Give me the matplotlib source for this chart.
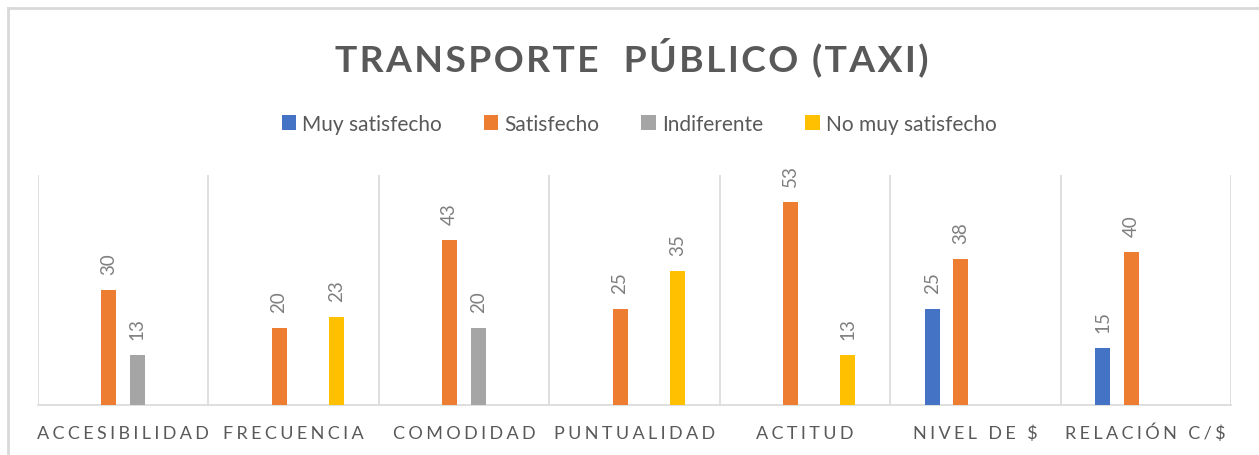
import matplotlib
matplotlib.use("Agg")
import matplotlib.pyplot as plt
from matplotlib.lines import Line2D
from matplotlib.patches import Patch
import numpy as np

# ---------------------------------------------------------------------------
# Data
# ---------------------------------------------------------------------------

CATEGORIES = ["ACCESIBILIDAD", "FRECUENCIA", "COMODIDAD", "PUNTUALIDAD",
              "ACTITUD", "NIVEL DE $", "RELACIÓN C/$"]
SERIES = ["Muy satisfecho", "Satisfecho", "Indiferente", "No muy satisfecho"]
MUY_SATISFECHO = [0, 0, 0, 0, 0, 25, 15]
SATISFECHO = [30, 20, 43, 25, 53, 38, 40]
INDIFERENTE = [13, 0, 20, 0, 0, 0, 0]
NO_MUY_SATISFECHO = [0, 23, 0, 35, 13, 0, 0]
COLORS = ["#4472C4", "#ED7D31", "#A5A5A5", "#FFC000"]

TITLE = "TRANSPORTE  PÚBLICO (TAXI)"

plt.rcParams["font.family"] = ["Lato", "DejaVu Sans"]


def spaced(text, sep="\u2009"):
    """Mimic Excel's character spacing with thin spaces."""
    return sep.join(text)


fig = plt.figure(figsize=(12.59, 4.56), dpi=100)
ax = fig.add_axes([37.7 / 1259, 50 / 456, (1231 - 37.7) / 1259, 230 / 456])

values = [MUY_SATISFECHO, SATISFECHO, INDIFERENTE, NO_MUY_SATISFECHO]
x = np.arange(len(CATEGORIES))
step = 0.168
width = 0.088
for i, (vals, color) in enumerate(zip(values, COLORS)):
    offset = (i - 1.5) * step
    for xi, v in zip(x, vals):
        if v == 0:
            continue
        ax.bar(xi + offset, v, width=width, color=color, zorder=3)
        ax.annotate(str(v), (xi + offset, v), xytext=(0, 11.5),
                    textcoords="offset points", rotation=90,
                    ha="center", va="bottom", fontsize=13.5, color="#7F7F7F")

ax.set_xlim(-0.5, len(CATEGORIES) - 0.5)
ax.set_ylim(0, 60)
ax.set_yticks([])
ax.set_xticks(x)
ax.set_xticklabels([spaced(c, "\u2009\u200a") for c in CATEGORIES],
                   fontsize=13, color="#595959")
# align all labels on the baseline so the accented Ó does not push one down
for lbl in ax.get_xticklabels():
    lbl.set_verticalalignment("baseline")
ax.tick_params(axis="x", length=0, pad=23.5)
for b in np.arange(-0.5, len(CATEGORIES), 1.0):
    ax.axvline(b, color="#D9D9D9", lw=1.2, zorder=1)
for s in ["top", "left", "right"]:
    ax.spines[s].set_visible(False)
ax.spines["bottom"].set_color("#D9D9D9")
ax.spines["bottom"].set_linewidth(1.2)

fig.text(0.502, 0.874, spaced(TITLE, "\u200a"), ha="center", va="center",
         fontsize=26.8, fontweight="bold", color="#595959")

handles = [Patch(facecolor=c, edgecolor="none") for c in COLORS]
fig.legend(handles, SERIES, loc="center", bbox_to_anchor=(0.5076, 0.7265),
           ncol=4, frameon=False, fontsize=15, labelcolor="#595959",
           handlelength=0.7, handleheight=0.7, handletextpad=0.3,
           columnspacing=2.0, borderpad=0.2)

# outer chart frame (top and left edges visible in the crop)
fig.add_artist(Line2D([8 / 1259, 1], [1 - 9 / 456, 1 - 9 / 456],
                      transform=fig.transFigure, color="#D9D9D9", lw=2))
fig.add_artist(Line2D([8 / 1259, 8 / 1259], [0, 1 - 9 / 456],
                      transform=fig.transFigure, color="#D9D9D9", lw=2))

fig.savefig("out.png", dpi=100)
